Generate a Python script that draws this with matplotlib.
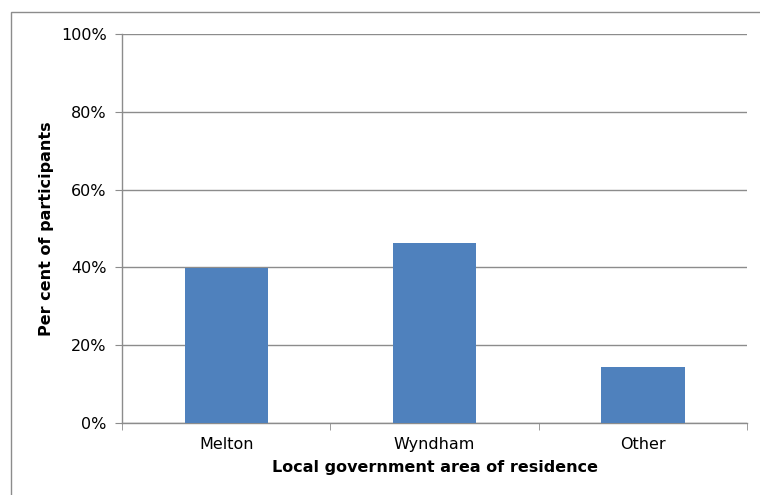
import matplotlib.pyplot as plt
from matplotlib.patches import Rectangle
from matplotlib.ticker import FixedLocator, PercentFormatter

plt.rcParams['font.family'] = ['DejaVu Sans']

areas = ['Melton', 'Wyndham', 'Other']
percent = [39.8, 46.2, 14.3]
y_ticks = [0, 20, 40, 60, 80, 100]

grid_col = '#8c8c8c'
bar_col = '#4f81bd'

fig = plt.figure(figsize=(7.6, 4.95), dpi=100)
# outer chart border (only left/top visible in the picture)
fig.patches.append(Rectangle((11 / 760, -0.1), 2, 1.1 - 12 / 495, transform=fig.transFigure,
                             fill=False, edgecolor='#8c8c8c', linewidth=1.0))

ax = fig.add_axes([122 / 760, 1 - 423 / 495, (747 - 122) / 760, (423 - 34) / 495])

x = list(range(len(areas)))
ax.bar(x, percent, width=0.4, color=bar_col, zorder=3)

ax.set_xlim(-0.5, len(areas) - 0.5)
ax.set_ylim(0, 100)
ax.set_yticks(y_ticks)
ax.yaxis.set_major_formatter(PercentFormatter(decimals=0))
ax.set_xticks(x)
ax.set_xticklabels(areas)
ax.xaxis.set_minor_locator(FixedLocator([-0.5, 0.5, 1.5, 2.5]))

ax.grid(axis='y', color=grid_col, linewidth=1.0, zorder=0)
for s in ['top', 'right']:
    ax.spines[s].set_visible(False)
for s in ['left', 'bottom']:
    ax.spines[s].set_color(grid_col)
    ax.spines[s].set_linewidth(1.0)

ax.tick_params(axis='y', length=5, color=grid_col, labelsize=11.5, pad=6)
ax.tick_params(axis='x', which='major', length=0, labelsize=11.5, pad=10)
ax.tick_params(axis='x', which='minor', length=5, color=grid_col)

ax.set_xlabel('Local government area of residence', fontsize=11.5, fontweight='bold', labelpad=6)
ax.set_ylabel('Per cent of participants', fontsize=11.5, fontweight='bold', labelpad=5)

fig.savefig('out.png', dpi=100)
